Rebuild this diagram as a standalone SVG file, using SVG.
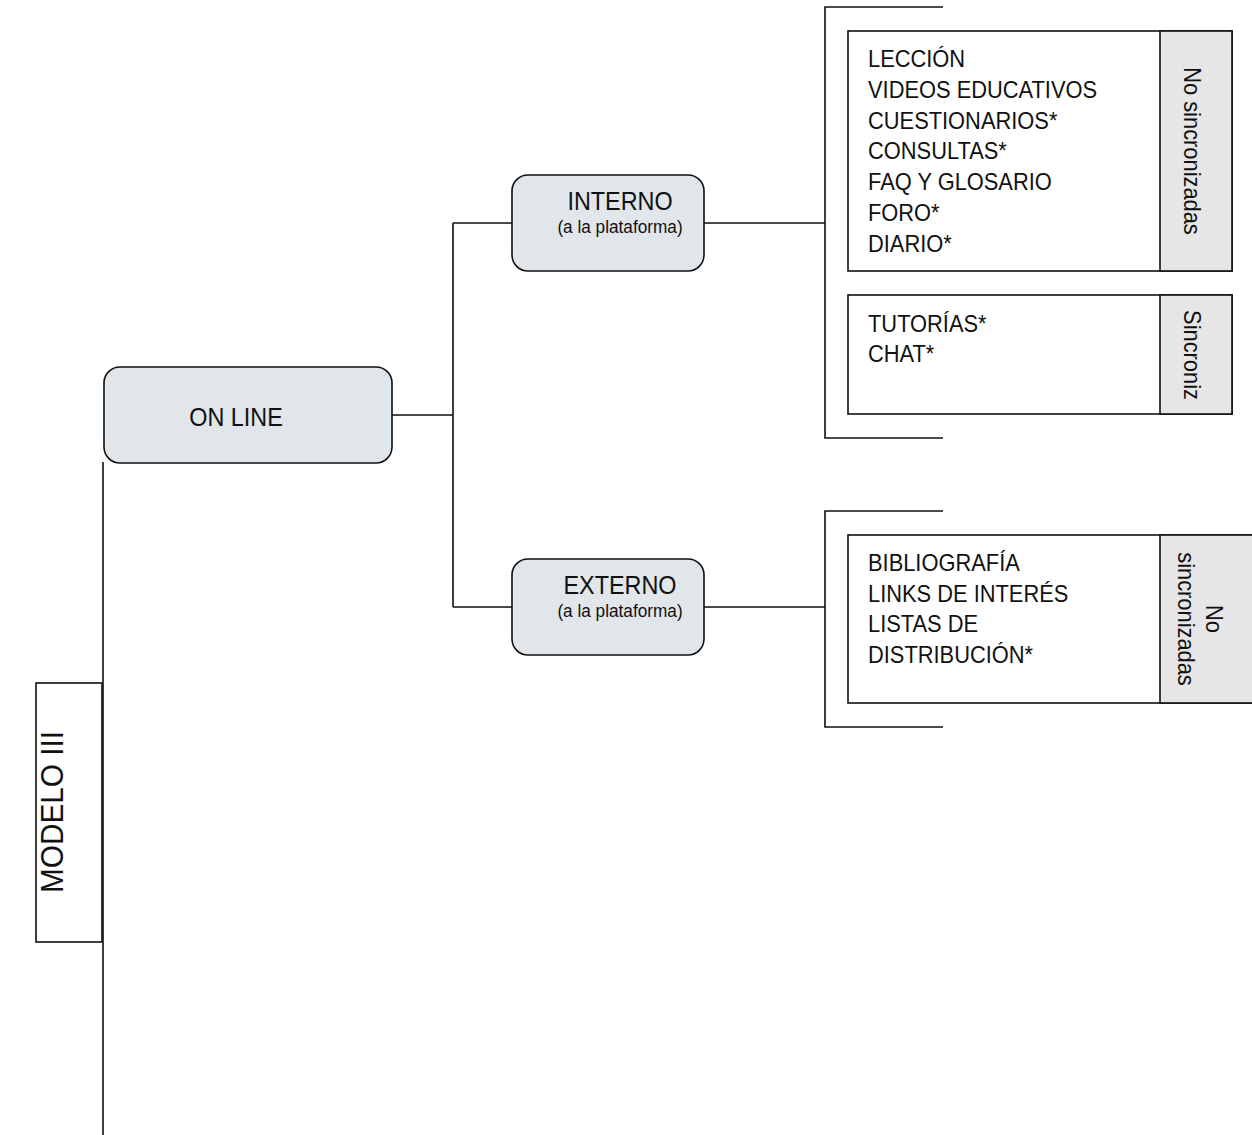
<svg xmlns="http://www.w3.org/2000/svg" width="1252" height="1135" viewBox="0 0 1252 1135">
<style>
  .ln{fill:none;stroke:#111;stroke-width:1.6}
  .rbox{fill:#e1e6ea;stroke:#111;stroke-width:1.6}
  .box{fill:#fff;stroke:#111;stroke-width:1.6}
  .gray{fill:#e6e6e6;stroke:#111;stroke-width:1.6}
  text{font-family:"Liberation Sans",Arial,sans-serif;fill:#111}
  .t22{font-size:23.5px}
  .t23{font-size:26px}
  .t17{font-size:18.5px}
  .mid{text-anchor:middle}
</style>
<rect width="1252" height="1135" fill="#fff"/>
<g id="connectors">
  <path class="ln" d="M103,462 V1135"/>
  <path class="ln" d="M392,415 H453 M453,223 V607 M453,223 H512 M453,607 H512"/>
  <path class="ln" d="M704,223 H825 M943,7 H825 V438 H943"/>
  <path class="ln" d="M704,607 H825 M943,511 H825 V727 H943"/>
</g>
<g id="modelo">
  <rect class="box" x="36" y="683" width="66" height="259"/>
  <text class="mid" style="font-size:32px" transform="translate(63,812) rotate(-90) scale(0.93,1)">MODELO III</text>
</g>
<g id="online">
  <rect class="rbox" x="104" y="367" width="288" height="96" rx="16"/>
  <text class="t23 mid" transform="translate(236,426) scale(0.9,1)">ON LINE</text>
</g>
<g id="interno">
  <rect class="rbox" x="512" y="175" width="192" height="96" rx="16"/>
  <text class="t23 mid" transform="translate(620,210) scale(0.9,1)">INTERNO</text>
  <text class="t17 mid" transform="translate(620,233) scale(0.93,1)">(a la plataforma)</text>
</g>
<g id="externo">
  <rect class="rbox" x="512" y="559" width="192" height="96" rx="16"/>
  <text class="t23 mid" transform="translate(620,594) scale(0.9,1)">EXTERNO</text>
  <text class="t17 mid" transform="translate(620,617) scale(0.93,1)">(a la plataforma)</text>
</g>
<g id="no-sincronizadas-interno">
  <rect class="box" x="848" y="31" width="384" height="240"/>
  <rect class="gray" x="1160" y="31" width="72" height="240"/>
  <text class="t22" transform="translate(868,0) scale(0.93,1)">
    <tspan x="0" y="67">LECCIÓN</tspan>
    <tspan x="0" y="97.8">VIDEOS EDUCATIVOS</tspan>
    <tspan x="0" y="128.6">CUESTIONARIOS*</tspan>
    <tspan x="0" y="159.4">CONSULTAS*</tspan>
    <tspan x="0" y="190.2">FAQ Y GLOSARIO</tspan>
    <tspan x="0" y="221">FORO*</tspan>
    <tspan x="0" y="251.8">DIARIO*</tspan>
  </text>
  <text class="t22 mid" transform="translate(1184,151) rotate(90) scale(0.93,1)">No sincronizadas</text>
</g>
<g id="sincronizadas-interno">
  <rect class="box" x="848" y="295" width="384" height="119"/>
  <rect class="gray" x="1160" y="295" width="72" height="119"/>
  <text class="t22" transform="translate(868,0) scale(0.93,1)">
    <tspan x="0" y="332">TUTORÍAS*</tspan>
    <tspan x="0" y="362">CHAT*</tspan>
  </text>
  <text class="t22 mid" transform="translate(1184,355) rotate(90) scale(0.93,1)">Sincroniz</text>
</g>
<g id="no-sincronizadas-externo">
  <rect class="box" x="848" y="535" width="420" height="168"/>
  <rect class="gray" x="1160" y="535" width="108" height="168"/>
  <text class="t22" transform="translate(868,0) scale(0.93,1)">
    <tspan x="0" y="571">BIBLIOGRAFÍA</tspan>
    <tspan x="0" y="601.7">LINKS DE INTERÉS</tspan>
    <tspan x="0" y="632.4">LISTAS DE</tspan>
    <tspan x="0" y="663">DISTRIBUCIÓN*</tspan>
  </text>
  <text class="t22 mid" transform="translate(1206,619) rotate(90) scale(0.93,1)">No</text>
  <text class="t22 mid" transform="translate(1178,619) rotate(90) scale(0.93,1)">sincronizadas</text>
</g>
</svg>
